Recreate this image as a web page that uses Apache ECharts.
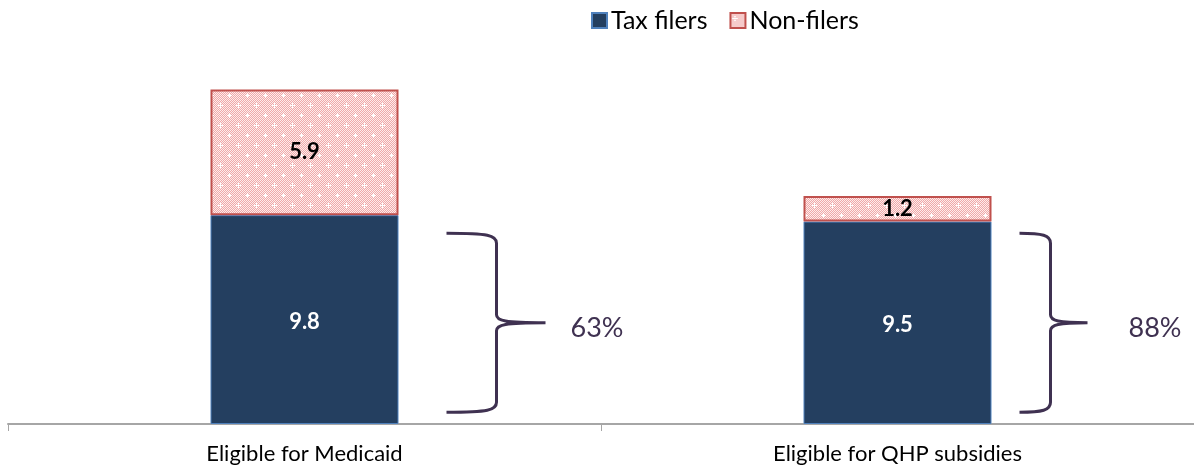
<!DOCTYPE html>
<html>
<head>
<meta charset="utf-8">
<script src="https://cdn.jsdelivr.net/npm/echarts@6/dist/echarts.min.js"></script>
<style>
  html, body { margin: 0; padding: 0; background: #fff; }
  #main { width: 1194px; height: 469px; }
</style>
</head>
<body>
<div id="main"></div>
<script>
// chart data
var categories = ['Eligible for Medicaid', 'Eligible for QHP subsidies'];
var taxFilers = [9.8, 9.5];
var nonFilers = [5.9, 1.2];
var shareLabels = ['63%', '88%'];
var braceRange = [0.55, 8.95];

// pink dotted fill like the original office chart
function makePattern() {
  var c = document.createElement('canvas');
  c.width = 18; c.height = 20;
  var ctx = c.getContext('2d');
  for (var y = 0; y < 20; y++) {
    for (var x = 0; x < 18; x++) {
      ctx.fillStyle = (x + y) % 2 ? '#efa9a9' : '#feecec';
      ctx.fillRect(x, y, 1, 1);
    }
  }
  ctx.fillStyle = '#ffffff';
  [[4, 5], [13, 15]].forEach(function (p) {
    ctx.fillRect(p[0] - 2, p[1], 5, 1);
    ctx.fillRect(p[0], p[1] - 2, 1, 5);
  });
  return c;
}

// brace shape per category: [arm start, stem, tip, label x] offsets from bar centre
var braceShape = [[142, 192, 241, 266], [122, 153, 190, 231]];

var myChart = echarts.init(document.getElementById('main'));
myChart.setOption({
  animation: false,
  textStyle: { fontFamily: 'Lato, "Open Sans", sans-serif' },
  legend: {
    top: 3,
    left: 586,
    itemWidth: 15,
    itemHeight: 15,
    itemGap: 22,
    icon: 'rect',
    textStyle: { fontSize: 25, color: '#000', padding: [0, 0, 0, -1] },
    data: ['Tax filers', 'Non-filers']
  },
  grid: { left: 8, right: -4, top: 83, bottom: 45 },
  xAxis: {
    type: 'category',
    data: categories,
    axisLine: { lineStyle: { color: '#a6a6a6', width: 2 } },
    axisTick: { show: true, interval: 0, length: 7, lineStyle: { color: '#a6a6a6', width: 1 } },
    axisLabel: { color: '#000', fontSize: 22, margin: 19 }
  },
  yAxis: { type: 'value', min: 0, max: 16, show: false, splitLine: { show: false } },
  series: [
    {
      name: 'Tax filers',
      type: 'bar',
      stack: 'total',
      barWidth: 188,
      data: taxFilers,
      itemStyle: { color: '#243f60', borderColor: '#4f81bd', borderWidth: 1 },
      label: { show: true, position: 'inside', offset: [0, 2], color: '#fff', fontSize: 22, fontWeight: 'bold', formatter: function (p) { return p.value.toFixed(1); } }
    },
    {
      name: 'Non-filers',
      type: 'bar',
      stack: 'total',
      barWidth: 188,
      data: nonFilers,
      itemStyle: { color: { image: makePattern(), repeat: 'repeat' }, borderColor: '#c0504d', borderWidth: 2 },
      label: { show: true, position: 'inside', color: '#000', fontSize: 22, fontWeight: 'bold', formatter: function (p) { return p.value.toFixed(1); } }
    },
    {
      type: 'custom',
      silent: true,
      data: shareLabels.map(function (s, i) { return [i, braceRange[0], braceRange[1]]; }),
      renderItem: function (params, api) {
        var i = api.value(0);
        var top = api.coord([i, api.value(2)]);
        var bot = api.coord([i, api.value(1)]);
        var s = braceShape[i];
        var x0 = top[0] + s[0], xv = top[0] + s[1], xt = top[0] + s[2];
        var yt = top[1], yb = bot[1], ym = (yt + yb) / 2;
        var d = 'M' + x0 + ',' + yt + ' C' + (xv - 8) + ',' + yt + ' ' + xv + ',' + (yt + 2) + ' ' + xv + ',' + (yt + 10) +
          ' L' + xv + ',' + (ym - 8) +
          ' C' + xv + ',' + (ym - 2) + ' ' + (xv + 8) + ',' + ym + ' ' + xt + ',' + ym +
          ' M' + xt + ',' + ym + ' C' + (xv + 8) + ',' + ym + ' ' + xv + ',' + (ym + 2) + ' ' + xv + ',' + (ym + 8) +
          ' L' + xv + ',' + (yb - 10) +
          ' C' + xv + ',' + (yb - 2) + ' ' + (xv - 8) + ',' + yb + ' ' + x0 + ',' + yb;
        return {
          type: 'group',
          children: [
            { type: 'path', shape: { pathData: d }, style: { fill: 'none', stroke: '#3f3151', lineWidth: 3 } },
            { type: 'text', x: top[0] + s[3], y: ym + 6, style: { text: shareLabels[i], fill: '#3f3151', fontSize: 27, fontFamily: 'Lato, sans-serif', verticalAlign: 'middle', align: 'left' } }
          ]
        };
      }
    }
  ]
});
</script>
</body>
</html>
